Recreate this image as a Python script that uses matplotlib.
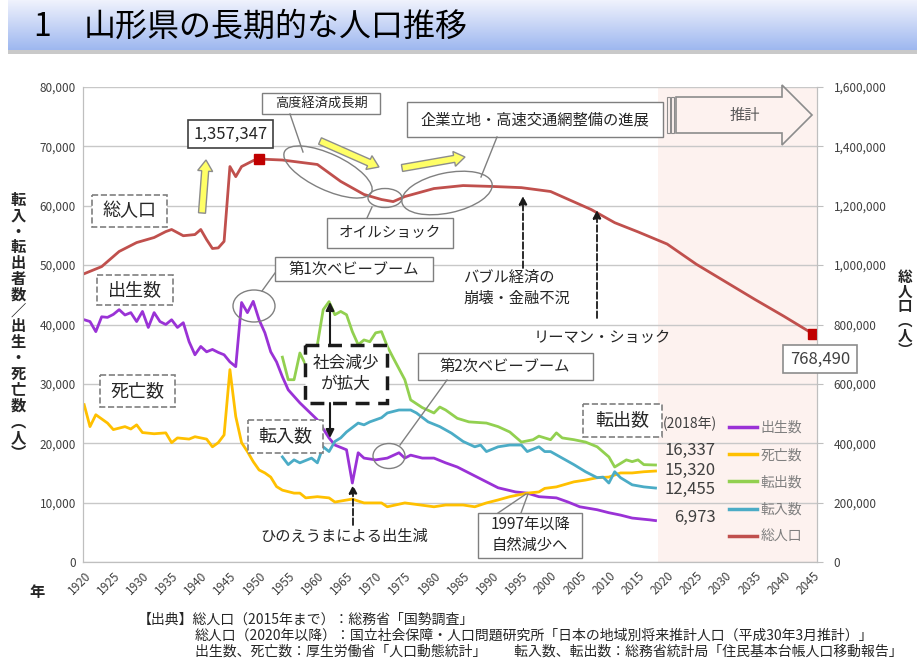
"""Yamagata long-term population chart (recreation)."""

import matplotlib
matplotlib.use("Agg")
import matplotlib.pyplot as plt
import numpy as np
from matplotlib.lines import Line2D
from matplotlib.patches import Ellipse, Rectangle, FancyArrow, FancyArrowPatch, Polygon
from matplotlib.transforms import Affine2D

plt.rcParams['font.family'] = ['Noto Sans CJK JP', 'DejaVu Sans']

# ---- data ----
pop_years = [1920, 1923, 1926, 1929, 1932, 1934, 1935, 1937, 1939, 1940, 1941, 1942,
             1943, 1944, 1945, 1946, 1947, 1949, 1950, 1954, 1960, 1964, 1968, 1971,
             1973, 1975, 1980, 1985, 1990, 1995, 2000, 2007, 2011, 2015, 2020, 2025,
             2030, 2035, 2040, 2045]
pop_values = [971000, 995000, 1046000, 1076000, 1093000, 1113000, 1120000, 1099000,
              1103000, 1120000, 1086000, 1056000, 1058000, 1080000, 1332000, 1298000,
              1332000, 1352000, 1357347, 1354000, 1339000, 1282000, 1238000, 1221000,
              1214000, 1231000, 1258000, 1268000, 1265000, 1261000, 1248000, 1187000,
              1143000, 1112000, 1071000, 1003000, 944000, 885000, 828000, 768490]

birth_years = [1920, 1921, 1922, 1923, 1924, 1925, 1926, 1927, 1928, 1929, 1930, 1931,
               1932, 1933, 1934, 1935, 1936, 1937, 1938, 1939, 1940, 1941, 1942, 1943,
               1944, 1945, 1946, 1947, 1948, 1949, 1950, 1951, 1952, 1953, 1954, 1955,
               1957, 1960, 1962, 1963, 1965, 1966, 1967, 1968, 1970, 1972, 1974, 1975,
               1976, 1978, 1980, 1982, 1984, 1986, 1989, 1991, 1994, 1996, 1998, 2001,
               2003, 2005, 2008, 2010, 2012, 2014, 2017, 2018]
births = [40800, 40500, 38800, 41300, 41200, 41700, 42500, 41600, 42000, 40500, 42200,
          39500, 42000, 40500, 40000, 40800, 39500, 40300, 37100, 34900, 36300, 35400,
          35800, 35300, 34900, 33700, 32900, 43700, 42000, 43900, 40800, 38600, 35400,
          33700, 31200, 29000, 26800, 23950, 20900, 19700, 18900, 13300, 18400, 17500,
          17200, 17500, 18400, 17500, 18000, 17500, 17500, 16700, 16000, 15000, 13500,
          12500, 11800, 11600, 11000, 10800, 10100, 9300, 8800, 8300, 7900, 7400, 7100,
          6973]

death_years = [1920, 1921, 1922, 1924, 1925, 1927, 1928, 1929, 1930, 1932, 1934, 1935,
               1936, 1938, 1939, 1941, 1942, 1943, 1944, 1945, 1946, 1947, 1948, 1949,
               1950, 1951, 1952, 1953, 1954, 1956, 1957, 1958, 1960, 1962, 1963, 1966,
               1968, 1971, 1972, 1975, 1980, 1982, 1985, 1987, 1989, 1991, 1993, 1996,
               1998, 1999, 2001, 2004, 2006, 2008, 2010, 2012, 2014, 2016, 2018]
deaths = [26500, 22800, 24800, 23400, 22300, 22800, 22400, 23100, 21800, 21600, 21750,
          20100, 20900, 20700, 21100, 20700, 19400, 20100, 21400, 32400, 24500, 20100,
          18600, 16900, 15500, 15000, 14300, 12700, 12100, 11600, 11600, 10800, 11000,
          10800, 10100, 10600, 9950, 9950, 9300, 9950, 9300, 9600, 9600, 9300, 9950,
          10450, 11000, 11600, 11800, 12400, 12650, 13500, 13800, 14200, 14300, 15000,
          15000, 15200, 15320]

out_years = [1954, 1955, 1956, 1957, 1958, 1959, 1960, 1961, 1962, 1963, 1964, 1965,
             1966, 1967, 1968, 1969, 1970, 1971, 1972, 1973, 1975, 1976, 1978, 1980,
             1981, 1982, 1984, 1986, 1989, 1991, 1993, 1995, 1997, 1998, 2000, 2001,
             2002, 2004, 2006, 2008, 2010, 2011, 2013, 2014, 2015, 2016, 2018]
out_moves = [34500, 30700, 30700, 35200, 33200, 35000, 36600, 42500, 43850, 41650,
             42200, 41650, 38800, 36600, 37400, 37100, 38600, 38800, 36300, 34400,
             30700, 27300, 26000, 25100, 26100, 25600, 24200, 23600, 23400, 22800,
             21900, 20200, 20600, 21200, 20600, 21750, 20900, 20600, 20200, 19400,
             17700, 16000, 17200, 16900, 17200, 16400, 16337]

in_years = [1954, 1955, 1956, 1957, 1959, 1960, 1961, 1962, 1963, 1964, 1965, 1967,
            1968, 1969, 1971, 1972, 1974, 1976, 1977, 1979, 1981, 1983, 1985, 1987,
            1988, 1989, 1991, 1993, 1995, 1996, 1998, 1999, 2000, 2002, 2004, 2006,
            2008, 2009, 2010, 2011, 2012, 2014, 2016, 2018]
in_moves = [17700, 16400, 17200, 16700, 17500, 16700, 19400, 18600, 20300, 20900, 21900,
            23400, 23100, 23600, 24300, 25100, 25600, 25600, 25100, 23600, 22800, 21700,
            20300, 19400, 19700, 18600, 19400, 19700, 19700, 18600, 19400, 18600, 18600,
            17500, 16400, 15200, 14200, 14300, 13300, 15200, 14200, 13000, 12650, 12455]

forecast_start = 2018.4
year_ticks = list(range(1920, 2046, 5))

C_BIRTH = '#9a32d6'
C_DEATH = '#ffc000'
C_OUT = '#92d050'
C_IN = '#4bacc6'
C_POP = '#c0504d'
TXT = '#262626'
EDGE = '#7f7f7f'

W, H = 917, 666
fig = plt.figure(figsize=(W / 100, H / 100), dpi=100)
fig.patch.set_facecolor('white')
# pixel coordinates, origin top-left
PX = Affine2D().scale(1 / 100, -1 / 100).translate(0, H / 100) + fig.dpi_scale_trans

# ---- title bar ----
tax = fig.add_axes([8 / W, 1 - 50 / H, (W - 8) / W, 50 / H])
grad = np.linspace(0, 1, 64)[:, None]
c0 = np.array([0.94, 0.95, 0.99])
c1 = np.array([0.62, 0.72, 0.94])
img = c0 + (c1 - c0) * grad[..., None]
tax.imshow(np.repeat(img, 2, axis=1), aspect='auto', extent=[0, 1, 0, 1])
tax.set_axis_off()
fig.add_artist(Rectangle((8, 50), W - 8, 4, transform=PX, fc='#c9c9c9', ec='none'))
fig.text(33, 27, '1', transform=PX, fontsize=23, va='center', color='black')
fig.text(84, 27, '山形県の長期的な人口推移', transform=PX, fontsize=23, va='center',
         color='black')

# ---- main axes ----
ax = fig.add_axes([83 / W, 1 - 562 / H, (817 - 83) / W, (562 - 87) / H])
ax.set_xlim(1919.8, 2045.7)
ax.set_ylim(0, 80000)
ax.axvspan(forecast_start, 2045.7, color='#fdf2ef', zorder=0, lw=0)
ax.set_yticks(range(0, 80001, 10000))
ax.yaxis.grid(True, color='#c8c8c8', lw=1.0)
ax.set_axisbelow(True)
ax.set_xticks(year_ticks)
ax.set_xticklabels([str(y) for y in year_ticks], rotation=45, ha='right',
                   rotation_mode='anchor', fontsize=8.5, color='#404040')
ax.set_yticklabels([f'{v:,}' for v in range(0, 80001, 10000)], fontsize=8.5,
                   color='#404040')
ax.tick_params(axis='both', length=0, pad=5)
ax.spines['top'].set_visible(False)
for s in ['left', 'bottom', 'right']:
    ax.spines[s].set_color('#bfbfbf')

lw = 2.0
ax.plot(birth_years, births, color=C_BIRTH, lw=lw, label='出生数')
ax.plot(death_years, deaths, color=C_DEATH, lw=lw, label='死亡数')
ax.plot(out_years, out_moves, color=C_OUT, lw=lw, label='転出数')
ax.plot(in_years, in_moves, color=C_IN, lw=lw, label='転入数')

ax2 = ax.twinx()
ax2.set_ylim(0, 1600000)
ax2.set_yticks(range(0, 1600001, 200000))
ax2.set_yticklabels([f'{v:,}' for v in range(0, 1600001, 200000)], fontsize=8.5,
                    color='#404040')
ax2.tick_params(axis='y', length=4, color='#bfbfbf', pad=8)
ax2.spines['top'].set_visible(False)
for s in ['left', 'bottom', 'right']:
    ax2.spines[s].set_color('#bfbfbf')
ax2.plot(pop_years, pop_values, color=C_POP, lw=lw, label='総人口')
i_peak = int(np.argmax(pop_values))
ax2.plot([pop_years[i_peak], pop_years[-1]], [pop_values[i_peak], pop_values[-1]],
         ls='none', marker='s', ms=7, color='#c00000')

handles = [Line2D([], [], color=c, lw=2.5) for c in (C_BIRTH, C_DEATH, C_OUT, C_IN, C_POP)]
ax2.legend(handles, ['出生数', '死亡数', '転出数', '転入数', '総人口'],
           loc='upper left', bbox_to_anchor=(722 / W, 1 - 414 / H),
           bbox_transform=fig.transFigure, frameon=False, fontsize=10,
           labelspacing=0.95, handlelength=2.0, handletextpad=0.3, borderpad=0,
           labelcolor='#7f7f7f')


# ---- helpers ----
def box(x0, y0, x1, y1, ls='-', lw=1.0, ec=EDGE, fc='white'):
    fig.add_artist(Rectangle((x0, y0), x1 - x0, y1 - y0, transform=PX, ls=ls, lw=lw,
                             ec=ec, fc=fc, zorder=2))


def label(x, y, s, size=11, color=TXT, **kw):
    fig.text(x, y, s, transform=PX, fontsize=size, color=color, ha=kw.pop('ha', 'center'),
             va=kw.pop('va', 'center'), zorder=3, **kw)


def oval(cx, cy, w, h, ang=0):
    fig.add_artist(Ellipse((cx, cy), w, h, angle=ang, transform=PX, fc='none',
                           ec='#808080', lw=1.0, zorder=2))


def line(x0, y0, x1, y1, color='#808080', lw=1.0):
    fig.add_artist(Line2D([x0, x1], [y0, y1], transform=PX, color=color, lw=lw, zorder=2))


def arrow(x0, y0, x1, y1, ls='-', lw=1.5):
    fig.add_artist(FancyArrowPatch((x0, y0), (x1, y1), transform=PX, arrowstyle='-|>',
                                   mutation_scale=12, lw=lw, ls=ls, color='#1a1a1a',
                                   shrinkA=0, shrinkB=0, zorder=3))


def yellow(x0, y0, x1, y1):
    fig.add_artist(FancyArrow(x0, y0, x1 - x0, y1 - y0, width=7, head_width=15,
                              head_length=11, length_includes_head=True, transform=PX,
                              fc='#ffff66', ec='#8c8c8c', lw=1.0, zorder=3))


# ---- annotations ----
box(188, 120, 273, 148, ec='#404040', lw=1.2)
label(230.5, 134, f'{pop_values[i_peak]:,}', size=12)
yellow(202, 213, 206, 160)

box(92, 195, 167, 227, ls='--', lw=1.2)
label(129.5, 211, '総人口', size=13)
box(97, 275, 173, 305, ls='--', lw=1.2)
label(135, 290, '出生数', size=13)
box(100, 375, 175, 407, ls='--', lw=1.2)
label(137.5, 391, '死亡数', size=13)

box(262, 93, 380, 114)
label(321, 103.5, '高度経済成長期', size=9.5)
line(290, 114, 303, 152)
oval(328, 172, 96, 36, 25)
yellow(320, 141, 379, 167)
yellow(402, 168, 465, 157)

box(327, 218, 453, 248)
label(390, 233, 'オイルショック', size=10.5)
line(367, 218, 372, 207)
oval(385, 198, 34, 19)

box(407, 102, 663, 137)
label(535, 119.5, '企業立地・高速交通網整備の進展', size=11)
line(497, 137, 481, 177)
oval(447, 193, 92, 40, -12)

# forecast arrow
fig.add_artist(Polygon([(676, 97), (782, 97), (782, 85), (812, 115), (782, 145),
                        (782, 133), (676, 133)], closed=True, transform=PX,
                       fc='none', ec='#8c8c8c', lw=1.2, zorder=2))
for xb in (667, 671):
    fig.add_artist(Rectangle((xb, 97), 2.5, 36, transform=PX, fc='none', ec='#8c8c8c',
                             lw=0.8, zorder=2))
label(745, 115, '推計', size=11, color='#595959')

box(275, 257, 433, 281)
label(354, 269, '第1次ベビーブーム', size=11)
line(275, 273, 262, 291)
oval(254, 306, 42, 32)

box(305, 345, 387, 403, ls=(0, (4, 2.5)), lw=2.5, ec='#1a1a1a')
label(346, 374, '社会減少\nが拡大', size=12, linespacing=1.3)
arrow(330, 345, 330, 302)
arrow(330, 403, 330, 438)

box(248, 420, 323, 453, ls='--', lw=1.2)
label(285.5, 436.5, '転入数', size=13)

box(418, 353, 593, 380)
label(505, 366.5, '第2次ベビーブーム', size=11)
line(447, 380, 400, 445)
oval(389, 456, 32, 25)

label(344, 536, 'ひのえうまによる出生減', size=11)
arrow(353, 525, 353, 485, ls='--', lw=1.3)

label(463, 288, 'バブル経済の\n崩壊・金融不況', size=11, ha='left', linespacing=1.35)
arrow(523, 268, 523, 196, ls='--', lw=1.3)
label(602, 337, 'リーマン・ショック', size=11)
arrow(597, 318, 597, 210, ls='--', lw=1.3)

box(478, 513, 582, 558)
label(530, 535.5, '1997年以降\n自然減少へ', size=11, linespacing=1.3)
line(498, 513, 526, 494)
line(521, 513, 528, 494)

box(583, 404, 662, 437, ls='--', lw=1.2)
label(622.5, 420.5, '転出数', size=13)
label(690, 424, '(2018年)', size=10, color='#404040')

label(716, 450, f'{out_moves[-1]:,}', size=12, color='#404040', ha='right')
label(716, 470, f'{deaths[-1]:,}', size=12, color='#404040', ha='right')
label(716, 489, f'{in_moves[-1]:,}', size=12, color='#404040', ha='right')
label(716, 517, f'{births[-1]:,}', size=12, color='#404040', ha='right')

box(783, 345, 857, 373, ec='#8c8c8c', lw=1.2)
label(820, 359, f'{pop_values[-1]:,}', size=12, color='#404040')

# axis titles (vertical)
for i, ch in enumerate('転入・転出者数／出生・死亡数︵人︶'):
    label(18, 200 + i * 15.8, ch, size=11, weight='bold')
for i, ch in enumerate('総人口︵人︶'):
    label(905, 277 + i * 14.6, ch, size=10.5, weight='bold')
label(37, 592, '年', size=11, weight='bold')

# source
label(138, 620, '【出典】総人口（2015年まで）：総務省「国勢調査」', size=10, ha='left')
label(195, 636, '総人口（2020年以降）：国立社会保障・人口問題研究所「日本の地域別将来推計人口（平成30年3月推計）」',
      size=10, ha='left')
label(195, 652, '出生数、死亡数：厚生労働省「人口動態統計」　　転入数、転出数：総務省統計局「住民基本台帳人口移動報告」',
      size=10, ha='left')

fig.savefig('out.png', dpi=100)
